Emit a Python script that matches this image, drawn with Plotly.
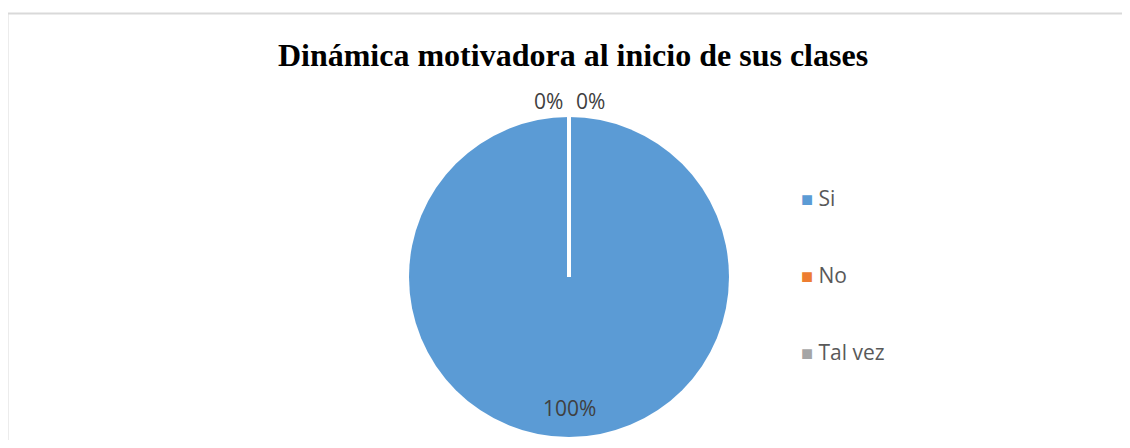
import plotly.graph_objects as go

# data
labels = ['Si', 'No', 'Tal vez']
values = [100, 0, 0]
colors = ['#5B9BD5', '#ED7D31', '#A5A5A5']
title = 'Dinámica motivadora al inicio de sus clases'

# the page puts an 8px body margin round the figure
W, H, M = 1130, 448, 8
FW, FH = W - 2 * M, H - 2 * M


def px(x):
    return (x - M) / FW


def py(y):
    return 1 - (y - M) / FH


total = sum(values)
pcts = [f'{round(v / total * 100)}%' for v in values]

# pie placement
cx, cy, r = 569, 277, 160

fig = go.Figure()
fig.add_trace(go.Pie(labels=labels, values=values, sort=False, direction='clockwise',
                     marker=dict(colors=colors, line=dict(color='white', width=0)),
                     textinfo='none', hoverinfo='label+percent', showlegend=False,
                     domain=dict(x=[px(cx - r), px(cx + r)], y=[py(cy + r), py(cy - r)])))

# white divider from the centre to the top, where the 0% slices sit
fig.add_shape(type='line', xref='paper', yref='paper',
              x0=px(cx), x1=px(cx), y0=py(cy), y1=py(cy - r),
              line=dict(color='white', width=4))

# percentage labels
lab_font = dict(family='Open Sans, Lato, sans-serif', size=21, color='#404040')
for txt, x, y in [(pcts[0], cx, 408), (pcts[2], 548, 101), (pcts[1], 590, 101)]:
    fig.add_annotation(x=px(x), y=py(y), xref='paper', yref='paper',
                       xanchor='center', yanchor='middle',
                       text=txt, showarrow=False, font=lab_font)

# legend drawn as annotations so the items can be spread out
for i, (lab, col) in enumerate(zip(labels, colors)):
    fig.add_annotation(x=px(799), y=py(198 + i * 77), xref='paper', yref='paper',
                       xanchor='left', yanchor='middle', showarrow=False,
                       text=f'<span style="color:{col};font-size:20px">■</span> {lab}',
                       font=dict(family='Open Sans, Lato, sans-serif', size=21, color='#595959'))

# chart border (left and top only visible)
fig.add_shape(type='line', xref='paper', yref='paper', x0=px(7.5), x1=px(7.5), y0=-0.05, y1=py(13.5),
              line=dict(color='#D9D9D9', width=2))
fig.add_shape(type='line', xref='paper', yref='paper', x0=px(7.5), x1=1.05, y0=py(13.5), y1=py(13.5),
              line=dict(color='#D9D9D9', width=2))

fig.update_layout(
    width=FW, height=FH,
    margin=dict(l=0, r=0, t=0, b=0),
    paper_bgcolor='white', plot_bgcolor='white',
    title=dict(text=f'<b>{title}</b>', x=px(573), xanchor='center', y=py(55), yanchor='middle',
               font=dict(family='Liberation Serif, Times New Roman, serif', size=32, color='black')),
)

fig.write_html('out.html')
